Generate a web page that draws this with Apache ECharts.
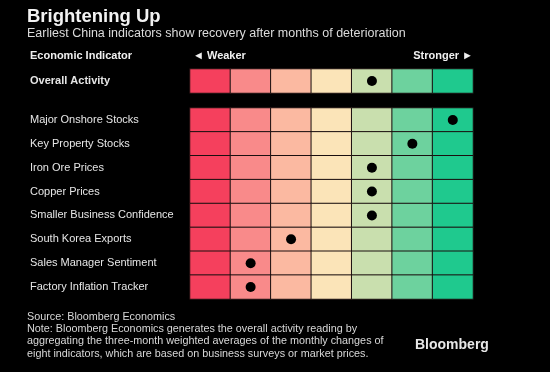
<!DOCTYPE html>
<html>
<head>
<meta charset="utf-8">
<script src="https://cdn.jsdelivr.net/npm/echarts@6/dist/echarts.min.js"></script>
<style>
html,body{margin:0;padding:0;background:#000;}
#c{width:550px;height:372px;}
</style>
</head>
<body>
<div id="c"></div>
<script>
// ---- data ----
var levels = ['1', '2', '3', '4', '5', '6', '7'];
var overallLabel = ['Overall Activity'];
var overallScore = [4];
var indicators = [
  'Major Onshore Stocks',
  'Key Property Stocks',
  'Iron Ore Prices',
  'Copper Prices',
  'Smaller Business Confidence',
  'South Korea Exports',
  'Sales Manager Sentiment',
  'Factory Inflation Tracker'
];
var indicatorScores = [6, 5, 4, 4, 4, 2, 1, 1];
var levelColors = ['#f5405d', '#f98a8a', '#fbb9a1', '#fbe4b8', '#c9dfae', '#6dd29e', '#1fc98e'];

// ---- build ----
function cells(rows) {
  var out = [];
  rows.forEach(function (r, ri) {
    levels.forEach(function (l, ci) { out.push([ci, ri, ci]); });
  });
  return out;
}
function dots(scores) {
  return scores.map(function (s, i) { return [s, i]; });
}
var pieces = levelColors.map(function (c, i) { return { value: i, color: c }; });

var chart = echarts.init(document.getElementById('c'));
var labelFont = 'Liberation Sans, Arial, sans-serif';

function yAxisFor(idx, names, bold) {
  return {
    type: 'category', gridIndex: idx, data: names, inverse: true,
    axisLine: { show: false }, axisTick: { show: false }, splitLine: { show: false },
    axisLabel: { align: 'left', margin: 160, color: '#e6e6e6', fontSize: 11,
      fontFamily: labelFont, fontWeight: bold ? 'bold' : 'normal' }
  };
}
function xAxisFor(idx) {
  return {
    type: 'category', gridIndex: idx, data: levels,
    axisLine: { show: false }, axisTick: { show: false }, axisLabel: { show: false },
    splitLine: { show: false }
  };
}

chart.setOption({
  backgroundColor: '#000000',
  animation: false,
  grid: [
    { left: 190, width: 283, top: 69, height: 24 },
    { left: 190, width: 283, top: 108, height: 191 }
  ],
  xAxis: [xAxisFor(0), xAxisFor(1)],
  yAxis: [yAxisFor(0, overallLabel, true), yAxisFor(1, indicators, false)],
  visualMap: {
    show: false, type: 'piecewise', dimension: 2, seriesIndex: [0, 1],
    pieces: pieces
  },
  series: [
    { type: 'heatmap', xAxisIndex: 0, yAxisIndex: 0, data: cells(overallLabel),
      itemStyle: { borderColor: '#1a0f0f', borderWidth: 1 }, emphasis: { disabled: true } },
    { type: 'heatmap', xAxisIndex: 1, yAxisIndex: 1, data: cells(indicators),
      itemStyle: { borderColor: '#1a0f0f', borderWidth: 1 }, emphasis: { disabled: true } },
    { type: 'scatter', xAxisIndex: 0, yAxisIndex: 0, data: dots(overallScore),
      symbolSize: 10, itemStyle: { color: '#000000', opacity: 1 }, z: 5 },
    { type: 'scatter', xAxisIndex: 1, yAxisIndex: 1, data: dots(indicatorScores),
      symbolSize: 10, itemStyle: { color: '#000000', opacity: 1 }, z: 5 }
  ],
  graphic: [
    { type: 'text', left: 27, top: 7, style: { text: 'Brightening Up', fill: '#f2f2f2',
      font: 'bold 18.5px ' + labelFont } },
    { type: 'text', left: 27, top: 27, style: { text: 'Earliest China indicators show recovery after months of deterioration',
      fill: '#dcdcdc', font: '12.5px ' + labelFont } },
    { type: 'text', left: 30, top: 50, style: { text: 'Economic Indicator', fill: '#f0f0f0',
      font: 'bold 11px ' + labelFont } },
    { type: 'text', left: 193, top: 50, style: { text: '\u25C4 Weaker', fill: '#f0f0f0',
      font: 'bold 11px ' + labelFont } },
    { type: 'text', right: 77, top: 50, style: { text: 'Stronger \u25BA', fill: '#f0f0f0',
      font: 'bold 11px ' + labelFont } },
    { type: 'text', left: 27, top: 311, style: {
      text: 'Source: Bloomberg Economics\nNote: Bloomberg Economics generates the overall activity reading by\naggregating the three-month weighted averages of the monthly changes of\neight indicators, which are based on business surveys or market prices.',
      fill: '#d8d8d8', font: '10.8px ' + labelFont, lineHeight: 12.2 } },
    { type: 'text', left: 415, top: 338, style: { text: 'Bloomberg', fill: '#e8e8e8',
      font: 'bold 14px ' + labelFont } }
  ]
});
</script>
</body>
</html>
